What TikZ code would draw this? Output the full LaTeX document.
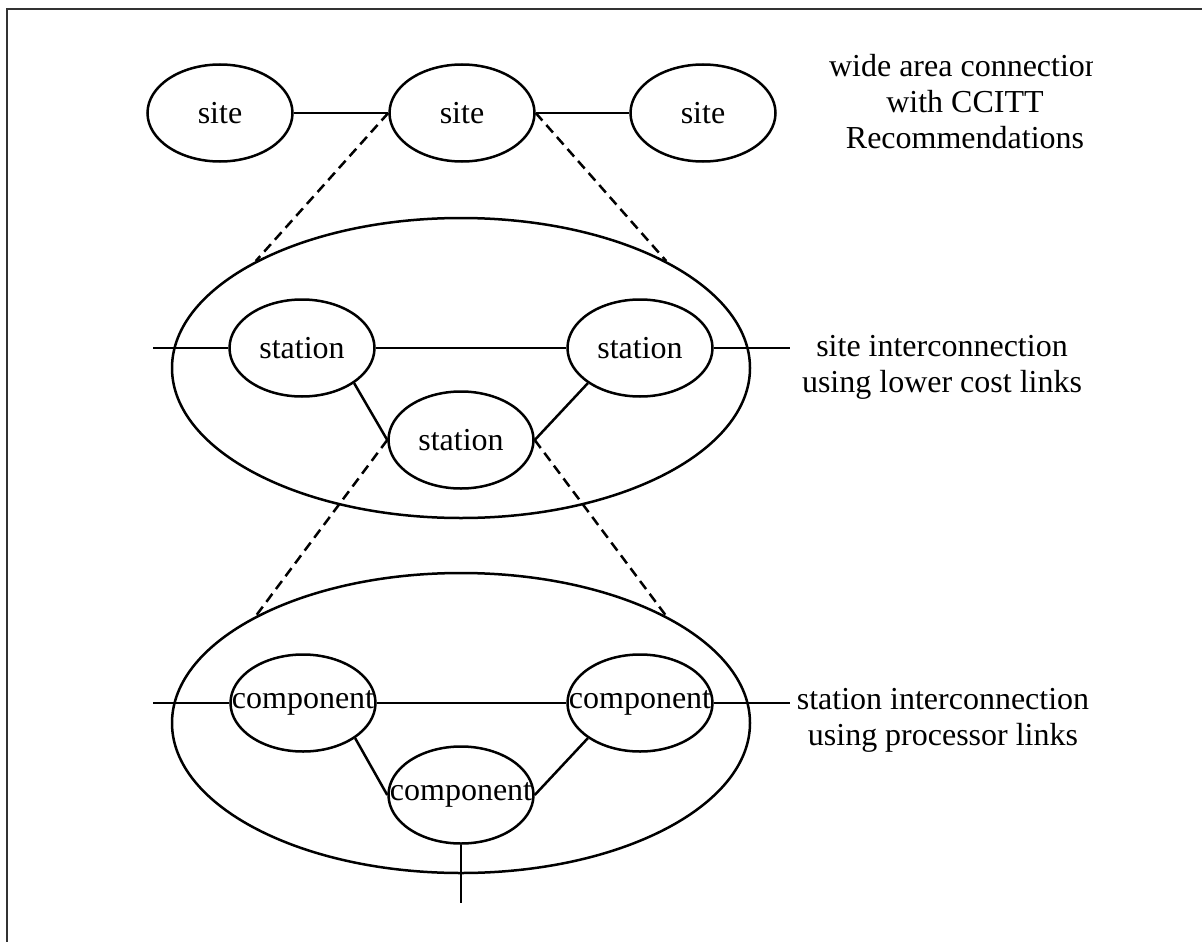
\documentclass[tikz,border=0pt]{standalone}
\usepackage{fontspec}
\setmainfont{Liberation Serif}
\usetikzlibrary{shapes.geometric}
\begin{document}
\begin{tikzpicture}[x=1pt,y=-1pt,
  ell/.style={ellipse,draw,line width=2.5pt,inner sep=0pt,minimum width=145pt,minimum height=97pt,font=\fontsize{32}{36}\selectfont},
  big/.style={ellipse,draw,line width=2.5pt,inner sep=0pt,minimum width=578pt,minimum height=300pt},
  link/.style={line width=2.5pt},
  dashlink/.style={line width=2.5pt,dash pattern=on 10pt off 6pt},
  lbl/.style={align=center,font=\fontsize{32}{36}\selectfont,inner sep=0pt},
  frame/.style={line width=2pt,draw=black!80}]
\useasboundingbox (0,0) rectangle (1202,942);
\draw[frame] (7,942) -- (7,9) -- (1202,9);

% top level sites
\node[ell] (s1) at (220,113) {\makebox[0pt]{site}};
\node[ell] (s2) at (462,113) {\makebox[0pt]{site}};
\node[ell] (s3) at (703,113) {\makebox[0pt]{site}};
\draw[link] (s1.east) -- (s2.west);
\draw[link] (s2.east) -- (s3.west);

% site (stations)
\node[big] (big1) at (461,368) {};
\node[ell] (st1) at (302,348) {\makebox[0pt]{station}};
\node[ell] (st2) at (640,348) {\makebox[0pt]{station}};
\node[ell] (st3) at (461,440) {\makebox[0pt]{station}};
\coordinate (l1) at (153,348);
\coordinate (r1) at (790,348);
\draw[link] (l1) -- (st1.west);
\draw[link] (st1.east) -- (st2.west);
\draw[link] (st2.east) -- (r1);
\draw[link] (st1.south east) -- (st3.west);
\draw[link] (st2.south west) -- (st3.east);
\draw[dashlink] (s2.west) -- (big1.north west);
\draw[dashlink] (s2.east) -- (big1.north east);

% station (components)
\node[big] (big2) at (461,723) {};
\node[ell] (c1) at (303,703) {\makebox[0pt]{component}};
\node[ell] (c2) at (640,703) {\makebox[0pt]{component}};
\node[ell] (c3) at (461,795) {\makebox[0pt]{component}};
\coordinate (l2) at (153,703);
\coordinate (r2) at (790,703);
\coordinate (v2) at (461,903);
\draw[link] (l2) -- (c1.west);
\draw[link] (c1.east) -- (c2.west);
\draw[link] (c2.east) -- (r2);
\draw[link] (c1.south east) -- (c3.west);
\draw[link] (c2.south west) -- (c3.east);
\draw[link] (c3.south) -- (v2);
\draw[dashlink] (st3.west) -- (big2.north west);
\draw[dashlink] (st3.east) -- (big2.north east);

% labels
\begin{scope}
\clip (0,0) rectangle (1092,942);
\node[lbl] (t1) at (965,102) {wide area connection\\with CCITT\\Recommendations};
\end{scope}
\node[lbl] (t2) at (942,367) {site interconnection\\using lower cost links};
\node[lbl] (t3) at (943,720) {station interconnection\\using processor links};
\end{tikzpicture}
\end{document}
